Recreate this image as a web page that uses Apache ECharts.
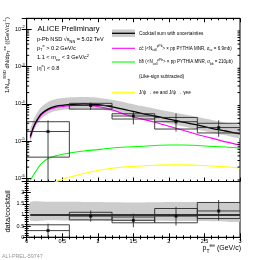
<!DOCTYPE html>
<html><head><meta charset="utf-8">
<script src="https://cdn.jsdelivr.net/npm/echarts@6/dist/echarts.min.js"></script>
<style>html,body{margin:0;padding:0;background:#fff}#c{width:268px;height:260px}</style>
</head><body><div id="c"></div>
<script>
// ---------- data ----------
const curvePt      = [0.05,0.1,0.15,0.2,0.3,0.4,0.5,0.6,0.8,1.0,1.2,1.4,1.6,1.8,2.0,2.2,2.4,2.6,2.8,3.0];
const cocktailSum  = [1.32e-5,2.5e-5,3.8e-5,5.25e-5,7.2e-5,8.5e-5,9.1e-5,9.5e-5,1.0e-4,9.5e-5,8.3e-5,6.9e-5,5.6e-5,4.7e-5,3.9e-5,3.2e-5,2.7e-5,2.2e-5,1.86e-5,1.55e-5];
const cocktailUp   = [2.05e-5,3.9e-5,5.9e-5,8.1e-5,1.12e-4,1.32e-4,1.42e-4,1.48e-4,1.52e-4,1.46e-4,1.28e-4,1.07e-4,8.8e-5,7.4e-5,6.2e-5,5.2e-5,4.4e-5,3.7e-5,3.1e-5,2.6e-5];
const cocktailLow  = [0.99e-5,1.9e-5,2.85e-5,3.9e-5,5.4e-5,6.4e-5,6.8e-5,7.1e-5,7.5e-5,7.2e-5,6.3e-5,5.2e-5,4.2e-5,3.55e-5,2.95e-5,2.45e-5,2.05e-5,1.7e-5,1.42e-5,1.2e-5];
const ccbar        = [1.2e-5,2.35e-5,3.55e-5,4.9e-5,6.8e-5,7.9e-5,8.5e-5,8.9e-5,9.1e-5,8.5e-5,6.9e-5,5.1e-5,4.0e-5,3.2e-5,2.5e-5,1.95e-5,1.5e-5,1.2e-5,9.5e-6,7.8e-6];
const bbbar        = [8.9e-7,1.26e-6,1.78e-6,2.4e-6,3.4e-6,4.0e-6,4.4e-6,4.8e-6,5.4e-6,5.9e-6,6.5e-6,6.9e-6,7.2e-6,7.6e-6,7.8e-6,7.8e-6,7.6e-6,7.2e-6,6.9e-6,6.5e-6];
const jpsiPt       = [0.3,0.4,0.5,0.6,0.8,1.0,1.2,1.4,1.6,1.8,2.0,2.2,2.4,2.6,2.8,3.0];
const jpsi         = [6.3e-7,7.9e-7,9.3e-7,1.07e-6,1.35e-6,1.62e-6,1.86e-6,2.04e-6,2.14e-6,2.24e-6,2.29e-6,2.29e-6,2.24e-6,2.14e-6,2.04e-6,1.9e-6];

const binLo        = [0.0,0.6,1.2,1.8,2.4];
const binHi        = [0.6,1.2,1.8,2.4,3.0];
const binCenter    = [0.3,0.9,1.5,2.1,2.7];
const dataVal      = [1.8e-5,9.0e-5,4.7e-5,3.3e-5,2.3e-5];
const dataSysHi    = [3.3e-5,1.03e-4,5.4e-5,4.3e-5,3.0e-5];
const dataSysLo    = [3.7e-6,7.2e-5,3.9e-5,2.1e-5,1.65e-5];
const dataStatHi   = [3.6e-5,1.08e-4,6.0e-5,5.5e-5,3.6e-5];
const dataStatLo   = [1e-8,6.9e-5,2.8e-5,1.8e-5,1.3e-5];

const ratioVal     = [0.30,0.95,0.76,0.95,1.18];
const ratioSysHi   = [0.56,1.12,0.91,1.29,1.56];
const ratioSysLo   = [0.0,0.78,0.65,0.65,0.84];
const ratioStatHi  = [0.61,1.20,1.06,1.36,1.67];
const ratioStatLo  = [0.0,0.70,0.45,0.53,0.76];
const ratioBandPt  = [0.05,0.3,0.6,0.9,1.2,1.5,1.8,2.1,2.4,2.7,3.0];
const ratioBandUp  = [1.58,1.59,1.59,1.58,1.57,1.56,1.57,1.58,1.58,1.55,1.50];
const ratioBandLow = [0.76,0.76,0.75,0.75,0.74,0.74,0.74,0.73,0.73,0.72,0.72];
const ratioUnity   = [1,1];
const ratioUnityPt = [0.05,3.0];

const xTicksMajor = 0.5;
const topLogMin = -6.086, topLogMax = -1.705;

// ---------- helpers ----------
const FF = '"Liberation Sans", Arial, Helvetica, sans-serif';
const L = v => Math.log10(v);
const pairs = (xs, ys, f) => xs.map((x, i) => [x, f ? f(ys[i]) : ys[i]]);

function richSet(fs) {
  return {
    n: {fontSize: fs, fontFamily: FF, fill: '#000', lineHeight: fs * 1.5, verticalAlign: 'middle'},
    s: {fontSize: fs * 0.7, fontFamily: FF, fill: '#000', lineHeight: fs * 0.7, verticalAlign: 'top'},
    b: {fontSize: fs * 0.7, fontFamily: FF, fill: '#000', lineHeight: fs * 0.7, verticalAlign: 'bottom'}
  };
}

function bandSeries(xi, yi, xs, lo, hi, f, color) {
  return {
    type: 'custom', xAxisIndex: xi, yAxisIndex: yi, silent: true, z: 1,
    data: xs.map((x, i) => [x, f(lo[i]), f(hi[i])]),
    encode: {x: 0, y: [1, 2]},
    renderItem(params, api) {
      if (params.dataIndex !== 0) return null;
      const pts = [];
      for (let i = 0; i < xs.length; i++) pts.push(api.coord([xs[i], f(hi[i])]));
      for (let i = xs.length - 1; i >= 0; i--) pts.push(api.coord([xs[i], f(lo[i])]));
      const cs = params.coordSys;
      return {type: 'polygon', shape: {points: pts, smooth: 0.2}, style: {fill: color},
        clipPath: {type: 'rect', shape: {x: cs.x, y: cs.y, width: cs.width, height: cs.height}}};
    }
  };
}

function boxSeries(xi, yi, val, sHi, sLo, eHi, eLo, f) {
  return {
    type: 'custom', xAxisIndex: xi, yAxisIndex: yi, silent: true, z: 4,
    data: binCenter.map((c, i) => [c, f(val[i]), binLo[i], binHi[i], f(sLo[i]), f(sHi[i]), f(eLo[i]), f(eHi[i])]),
    encode: {x: 0, y: 1},
    renderItem(params, api) {
      const c = api.value(0), v = api.value(1), xl = api.value(2), xh = api.value(3);
      const sl = api.value(4), sh = api.value(5), el = api.value(6), eh = api.value(7);
      const p1 = api.coord([xl, sh]), p2 = api.coord([xh, sl]);
      const pl = api.coord([xl, v]), pr = api.coord([xh, v]);
      const et = api.coord([c, eh]), eb = api.coord([c, el]);
      const cs = params.coordSys;
      const st = {stroke: '#2a2a2a', lineWidth: 0.9, fill: null};
      return {type: 'group',
        clipPath: {type: 'rect', shape: {x: cs.x, y: cs.y, width: cs.width, height: cs.height}},
        children: [
          {type: 'rect', shape: {x: p1[0], y: p1[1], width: p2[0] - p1[0], height: p2[1] - p1[1]}, style: st},
          {type: 'line', shape: {x1: pl[0], y1: pl[1], x2: pr[0], y2: pr[1]}, style: st},
          {type: 'line', shape: {x1: et[0], y1: et[1], x2: eb[0], y2: eb[1]}, style: st}
        ]};
    }
  };
}

const minorLog = [];
for (let n = -7; n <= -2; n++) for (let k = 2; k <= 9; k++) {
  const v = n + Math.log10(k);
  if (v > topLogMin && v < topLogMax) minorLog.push(v);
}

const axisBase = {
  axisLine: {show: true, lineStyle: {color: '#000', width: 1}},
  splitLine: {show: false}
};
function xAx(gi, pos, labels) {
  return Object.assign({}, axisBase, {
    type: 'value', gridIndex: gi, position: pos, min: 0, max: 3, interval: xTicksMajor,
    axisTick: {show: true, inside: true, length: 4, lineStyle: {color: '#000'}},
    minorTick: {show: true, splitNumber: 5, length: 2, lineStyle: {color: '#000'}},
    axisLabel: {show: labels, fontSize: 5.5, fontFamily: FF, color: '#000', margin: 1.5,
      formatter: v => String(v)}
  });
}

const option = {
  animation: false,
  backgroundColor: '#fff',
  grid: [
    {left: 26.7, right: 28, top: 18.3, height: 163.2, show: true, borderColor: '#000', borderWidth: 1, backgroundColor: 'rgba(0,0,0,0)'},
    {left: 26.7, right: 28, top: 181.5, height: 55.8, show: true, borderColor: '#000', borderWidth: 1, backgroundColor: 'rgba(0,0,0,0)'}
  ],
  xAxis: [xAx(0, 'bottom', false), xAx(0, 'top', false), xAx(1, 'bottom', true), xAx(1, 'top', false)],
  yAxis: [
    Object.assign({}, axisBase, {type: 'value', gridIndex: 0, position: 'left', min: topLogMin, max: topLogMax, splitNumber: 4,
      axisTick: {show: true, inside: true, length: 5, lineStyle: {color: '#000'}},
      axisLabel: {show: true, margin: 2, fontSize: 5.5, fontFamily: FF, color: '#000',
        formatter: v => { const r = Math.round(v); if (Math.abs(v - r) > 1e-6) return ''; return '{t|10}{s|' + r + '}'; },
        rich: {t: {fontSize: 5.5, fontFamily: FF, color: '#000', lineHeight: 8, verticalAlign: 'middle'},
               s: {fontSize: 4, fontFamily: FF, color: '#000', lineHeight: 4, verticalAlign: 'top'}}}}),
    Object.assign({}, axisBase, {type: 'value', gridIndex: 0, position: 'right', min: topLogMin, max: topLogMax, splitNumber: 4,
      axisTick: {show: true, inside: true, length: 5, lineStyle: {color: '#000'}}, axisLabel: {show: false}}),
    Object.assign({}, axisBase, {type: 'value', gridIndex: 1, position: 'left', min: 0, max: 2.5, interval: 0.5,
      axisTick: {show: true, inside: true, length: 4, lineStyle: {color: '#000'}},
      minorTick: {show: true, splitNumber: 5, length: 2, lineStyle: {color: '#000'}},
      axisLabel: {show: true, margin: 2.5, fontSize: 5.5, fontFamily: FF, color: '#000',
        formatter: v => (v > 2.25 ? '' : String(v))}}),
    Object.assign({}, axisBase, {type: 'value', gridIndex: 1, position: 'right', min: 0, max: 2.5, interval: 0.5,
      axisTick: {show: true, inside: true, length: 4, lineStyle: {color: '#000'}},
      minorTick: {show: true, splitNumber: 5, length: 2, lineStyle: {color: '#000'}},
      axisLabel: {show: false}})
  ],
  series: [
    bandSeries(0, 0, curvePt, cocktailLow, cocktailUp, L, '#cccccc'),
    {type: 'line', xAxisIndex: 0, yAxisIndex: 0, data: pairs(jpsiPt, jpsi, L), showSymbol: false, smooth: 0.3, z: 2,
      lineStyle: {color: '#ffff00', width: 1.1}, silent: true},
    {type: 'line', xAxisIndex: 0, yAxisIndex: 0, data: pairs(curvePt, bbbar, L), showSymbol: false, smooth: 0.3, z: 2,
      lineStyle: {color: '#00ff00', width: 1.1}, silent: true},
    {type: 'line', xAxisIndex: 0, yAxisIndex: 0, data: pairs(curvePt, ccbar, L), showSymbol: false, smooth: 0.3, z: 2,
      lineStyle: {color: '#ff00ff', width: 1.1}, silent: true},
    {type: 'line', xAxisIndex: 0, yAxisIndex: 0, data: pairs(curvePt, cocktailSum, L), showSymbol: false, smooth: 0.3, z: 3,
      lineStyle: {color: '#000', width: 1.3}, silent: true},
    boxSeries(0, 0, dataVal, dataSysHi, dataSysLo, dataStatHi, dataStatLo, L),
    {type: 'scatter', xAxisIndex: 0, yAxisIndex: 0, data: pairs(binCenter, dataVal, L), symbol: 'rect', symbolSize: 3,
      itemStyle: {color: '#000'}, z: 5, silent: true},
    {type: 'custom', xAxisIndex: 0, yAxisIndex: 0, silent: true, z: 6, data: minorLog.map(v => [0, v]),
      renderItem(params, api) {
        const v = api.value(1); const a = api.coord([0, v]); const b = api.coord([3, v]);
        return {type: 'group', children: [
          {type: 'line', shape: {x1: a[0], y1: a[1], x2: a[0] + 2.5, y2: a[1]}, style: {stroke: '#000', lineWidth: 1}},
          {type: 'line', shape: {x1: b[0] - 2.5, y1: b[1], x2: b[0], y2: b[1]}, style: {stroke: '#000', lineWidth: 1}}]};
      }},
    bandSeries(2, 2, ratioBandPt, ratioBandLow, ratioBandUp, v => v, '#cccccc'),
    {type: 'line', xAxisIndex: 2, yAxisIndex: 2, data: pairs(ratioUnityPt, ratioUnity), showSymbol: false, z: 3,
      lineStyle: {color: '#000', width: 1.3}, silent: true},
    boxSeries(2, 2, ratioVal, ratioSysHi, ratioSysLo, ratioStatHi, ratioStatLo, v => v),
    {type: 'scatter', xAxisIndex: 2, yAxisIndex: 2, data: pairs(binCenter, ratioVal), symbol: 'rect', symbolSize: 3,
      itemStyle: {color: '#000'}, z: 5, silent: true}
  ],
  graphic: [
    {type: 'text', x: 37.5, y: 29.2, style: {text: 'ALICE Preliminary', font: '7.6px ' + FF, fill: '#000', textVerticalAlign: 'middle', verticalAlign: 'middle'}},
    {type: 'text', x: 37, y: 39.5, style: {text: '{n|p-Pb NSD √s}{b|NN}{n| = 5.02 TeV}', rich: richSet(5.6), textVerticalAlign: 'middle', verticalAlign: 'middle'}},
    {type: 'text', x: 37, y: 48, style: {text: '{n|p}{b|T}{s|e}{n| > 0.2 GeV/c}', rich: richSet(5.6), textVerticalAlign: 'middle', verticalAlign: 'middle'}},
    {type: 'text', x: 37, y: 57.7, style: {text: '{n|1.1 < m}{b|ee}{n| < 3 GeV/c}{s|2}', rich: richSet(5.6), textVerticalAlign: 'middle', verticalAlign: 'middle'}},
    {type: 'text', x: 37, y: 68.3, style: {text: '{n||η}{s|e}{n|| < 0.8}', rich: richSet(5.6), textVerticalAlign: 'middle', verticalAlign: 'middle'}},
    // legend swatches
    {type: 'rect', shape: {x: 112, y: 29.5, width: 23, height: 7.5}, style: {fill: '#cccccc'}},
    {type: 'line', shape: {x1: 112, y1: 33.3, x2: 135, y2: 33.3}, style: {stroke: '#000', lineWidth: 1.3}},
    {type: 'line', shape: {x1: 112, y1: 48.3, x2: 135, y2: 48.3}, style: {stroke: '#ff00ff', lineWidth: 1.1}},
    {type: 'line', shape: {x1: 112, y1: 62, x2: 135, y2: 62}, style: {stroke: '#00ff00', lineWidth: 1.1}},
    {type: 'line', shape: {x1: 112, y1: 92.3, x2: 135, y2: 92.3}, style: {stroke: '#ffff00', lineWidth: 1.1}},
    {type: 'text', x: 139, y: 33.3, style: {text: '{n|Cocktail sum with uncertainties}', rich: richSet(4.7), textVerticalAlign: 'middle', verticalAlign: 'middle'}},
    {type: 'text', x: 139, y: 48.3, style: {text: '{n|cc\u0304 (<N}{b|coll}{s|pPb}{n|> × pp PYTHIA MNR, σ}{b|cc\u0304}{n| = 6.9mb)}', rich: richSet(4.5), textVerticalAlign: 'middle', verticalAlign: 'middle'}},
    {type: 'text', x: 139, y: 62, style: {text: '{n|bb\u0304 (<N}{b|coll}{s|pPb}{n|> × pp PYTHIA MNR, σ}{b|bb\u0304}{n| = 210μb)}', rich: richSet(4.5), textVerticalAlign: 'middle', verticalAlign: 'middle'}},
    {type: 'text', x: 139, y: 76.7, style: {text: '{n|(Like-sign subtracted)}', rich: richSet(4.7), textVerticalAlign: 'middle', verticalAlign: 'middle'}},
    {type: 'text', x: 139, y: 92.3, style: {text: '{n|J/ψ → ee and J/ψ → γee}', rich: richSet(4.7), textVerticalAlign: 'middle', verticalAlign: 'middle'}},
    // axis titles
    {type: 'text', x: 7, y: 55, rotation: Math.PI / 2, style: {text: '{n|1/N}{b|evt}{s|NSD}{n| dN/dp}{b|T}{s|ee}{n| ((GeV/c)}{s|-1}{n|)}', rich: richSet(5.8), textAlign: 'center', align: 'center', textVerticalAlign: 'middle', verticalAlign: 'middle'}},
    {type: 'text', x: 7.5, y: 211.5, rotation: Math.PI / 2, style: {text: 'data/cocktail', font: '7.6px ' + FF, fill: '#000', textAlign: 'center', align: 'center', textVerticalAlign: 'middle', verticalAlign: 'middle'}},
    {type: 'text', x: 241, y: 248.5, style: {text: '{n|p}{b|T}{s|ee}{n| (GeV/c)}', rich: richSet(7), textAlign: 'right', align: 'right', textVerticalAlign: 'middle', verticalAlign: 'middle'}},
    {type: 'text', x: 2, y: 256.5, style: {text: 'ALI-PREL-59747', font: '5.4px ' + FF, fill: '#999', textVerticalAlign: 'middle', verticalAlign: 'middle'}}
  ]
};
const chart = echarts.init(document.getElementById('c'), null, {renderer: 'canvas'});
chart.setOption(option);
</script></body></html>
